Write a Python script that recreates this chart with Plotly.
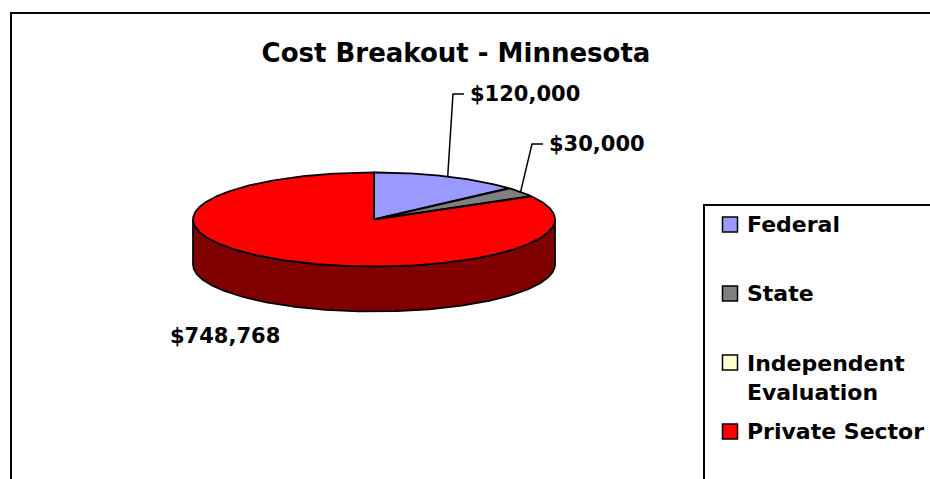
import numpy as np
import plotly.graph_objects as go

# ---------------- data ----------------
categories = ["Federal", "State", "Independent Evaluation", "Private Sector"]
values = [120000, 30000, 0, 748768]
legend_labels = ["Federal", "State", "Independent<br>Evaluation", "Private Sector"]
title_text = "Cost Breakout - Minnesota"

# ---------------- styles / layout ----------------
top_colors = ["#9999FF", "#808080", "#FFFFCC", "#FF0000"]
side_colors = ["#4C4C80", "#404040", "#808066", "#800000"]

W, H = 930, 479
CX, CY, RX, RY, DEPTH = 374, 219.5, 181, 47, 45
FONT = "DejaVu Sans"
LBL_SIZE = 21
LEG_SIZE = 22
OUTLINE = 1.8

# label text anchor positions (pixel coords) and alignment; None -> no label
label_pos = [(468, 94), (547, 144), None, (282, 336)]
label_align = ["left", "left", None, "right"]
label_leader = [True, True, False, False]


def pt(theta_deg, dy=0.0):
    t = np.radians(theta_deg)
    return CX + RX * np.sin(t), CY - RY * np.cos(t) + dy


total = float(sum(values))
angles = np.concatenate([[0.0], np.cumsum([v / total * 360.0 for v in values])])

fig = go.Figure()

# ---- side walls (visible front half: 90..270 deg clockwise from top) ----
for i, v in enumerate(values):
    if v <= 0:
        continue
    s0, s1 = max(angles[i], 90.0), min(angles[i + 1], 270.0)
    if s1 <= s0:
        continue
    th = np.linspace(s0, s1, 240)
    xt, yt = pt(th)
    xb, yb = pt(th[::-1], DEPTH)
    xs = np.concatenate([xt, xb, xt[:1]])
    ys = np.concatenate([yt, yb, yt[:1]])
    fig.add_trace(go.Scatter(
        x=xs, y=ys, mode="lines", fill="toself", fillcolor=side_colors[i],
        line=dict(color="black", width=OUTLINE), hoverinfo="skip",
        showlegend=False))

# ---- top wedges ----
for i, v in enumerate(values):
    if v <= 0:
        continue
    n = max(3, int((angles[i + 1] - angles[i]) * 2))
    th = np.linspace(angles[i], angles[i + 1], n)
    xa, ya = pt(th)
    xs = np.concatenate([[CX], xa, [CX]])
    ys = np.concatenate([[CY], ya, [CY]])
    fig.add_trace(go.Scatter(
        x=xs, y=ys, mode="lines", fill="toself", fillcolor=top_colors[i],
        line=dict(color="black", width=OUTLINE), name=categories[i],
        hovertemplate=f"{categories[i]}: ${v:,.0f}<extra></extra>",
        showlegend=False))

# ---- data labels with leader lines ----
annotations = []
for i, v in enumerate(values):
    if v <= 0 or label_pos[i] is None:
        continue
    tx, ty = label_pos[i]
    if label_leader[i]:
        mid = (angles[i] + angles[i + 1]) / 2.0
        sx, sy = pt(mid)
        fig.add_trace(go.Scatter(
            x=[sx, tx - 15, tx - 4], y=[sy, ty, ty], mode="lines",
            line=dict(color="black", width=1.5), hoverinfo="skip",
            showlegend=False))
    annotations.append(dict(
        x=tx, y=ty, xref="x", yref="y", text=f"${v:,.0f}", showarrow=False,
        xanchor=label_align[i], yanchor="middle",
        font=dict(family=FONT, size=LBL_SIZE, color="black", weight=700)))

# ---- legend (drawn) ----
shapes = []
# outer chart border
shapes.append(dict(type="rect", xref="x", yref="y", x0=11, y0=13, x1=W + 10,
                   y1=H + 10, line=dict(color="black", width=2)))
# legend box
shapes.append(dict(type="rect", xref="x", yref="y", x0=704, y0=205, x1=W + 10,
                   y1=H + 10, line=dict(color="black", width=2)))
row0, pitch, sq = 224.5, 69, 15
line_h = 1.3 * LEG_SIZE
for i, lab in enumerate(legend_labels):
    yc = row0 + pitch * i
    shapes.append(dict(type="rect", xref="x", yref="y", x0=722.5, x1=722.5 + sq,
                       y0=yc - sq / 2, y1=yc + sq / 2, fillcolor=top_colors[i],
                       line=dict(color="black", width=1.5)))
    nlines = lab.count("<br>") + 1
    annotations.append(dict(
        x=745, y=yc + (nlines - 1) * line_h / 2 + (nlines - 1) * 1.5,
        xref="x", yref="y", text=lab,
        showarrow=False, xanchor="left", yanchor="middle", align="left",
        font=dict(family=FONT, size=LEG_SIZE, color="black", weight=700)))

fig.update_layout(
    width=W, height=H,
    margin=dict(l=0, r=0, t=0, b=0, pad=0),
    paper_bgcolor="white", plot_bgcolor="white",
    title=dict(text=title_text, x=456 / W, xanchor="center", xref="paper",
               y=1 - 53 / H, yanchor="middle", yref="paper",
               font=dict(family=FONT, size=26, color="black", weight=700)),
    xaxis=dict(range=[0, W], visible=False, fixedrange=True),
    yaxis=dict(range=[H, 0], visible=False, fixedrange=True),
    shapes=shapes, annotations=annotations, showlegend=False,
)

fig.write_html(
    "out.html",
    config={"displayModeBar": False},
    post_script="document.body.style.margin='0';document.body.style.overflow='hidden';",
)
